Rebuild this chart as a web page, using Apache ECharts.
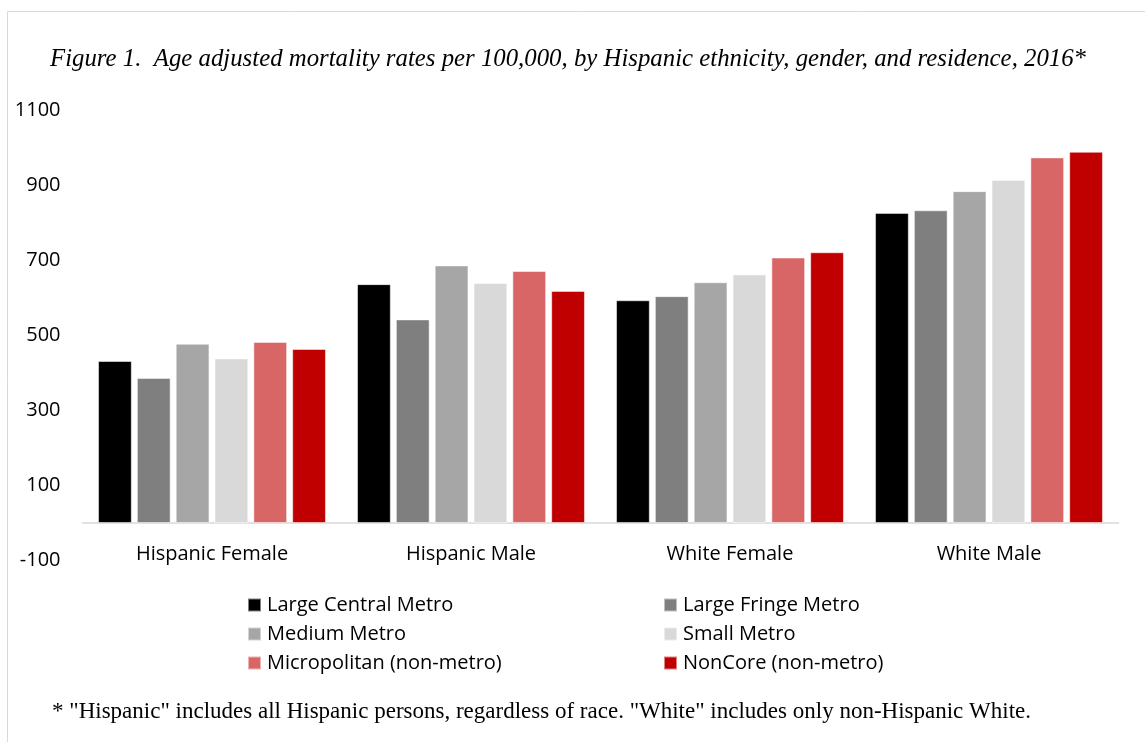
<!DOCTYPE html>
<html>
<head>
<meta charset="utf-8">
<script src="https://cdn.jsdelivr.net/npm/echarts@6/dist/echarts.min.js"></script>
<style>
html,body{margin:0;padding:0;background:#fff;}
#chart{width:1145px;height:742px;}
</style>
</head>
<body>
<div id="chart"></div>
<script>
const categories = ['Hispanic Female', 'Hispanic Male', 'White Female', 'White Male'];
const seriesNames = ['Large Central Metro', 'Large Fringe Metro', 'Medium Metro', 'Small Metro', 'Micropolitan (non-metro)', 'NonCore (non-metro)'];
const largeCentralMetro = [432, 637, 594, 827];
const largeFringeMetro = [387, 543, 605, 834];
const mediumMetro = [478, 687, 642, 885];
const smallMetro = [439, 640, 663, 915];
const micropolitan = [483, 672, 708, 975];
const nonCore = [464, 619, 722, 990];
const yMin = -100, yMax = 1100, yInterval = 200;
const titleText = 'Figure 1.  Age adjusted mortality rates per 100,000, by Hispanic ethnicity, gender, and residence, 2016*';
const footnoteText = '* "Hispanic" includes all Hispanic persons, regardless of race. "White" includes only non-Hispanic White.';

const seriesData = [largeCentralMetro, largeFringeMetro, mediumMetro, smallMetro, micropolitan, nonCore];
const colors = ['#000000', '#7f7f7f', '#a6a6a6', '#d9d9d9', '#d86666', '#c00000'];
const sansFont = 'Open Sans';
const fs = 20;

const chart = echarts.init(document.getElementById('chart'), null, {renderer: 'canvas'});
chart.setOption({
  animation: false,
  backgroundColor: '#fff',
  color: colors,
  graphic: [{
    type: 'rect', silent: true, z: -1,
    shape: {x: 7.5, y: 11.5, width: 1200, height: 800},
    style: {fill: 'none', stroke: '#d9d9d9', lineWidth: 1}
  }],
  title: [{
    text: titleText, left: 50, top: 47, padding: 0,
    textStyle: {fontFamily: 'Liberation Serif', fontStyle: 'italic', fontWeight: 'normal', fontSize: 24.8, color: '#000'}
  }, {
    text: footnoteText, left: 52, top: 700, padding: 0,
    textStyle: {fontFamily: 'Liberation Serif', fontWeight: 'normal', fontSize: 23, color: '#000'}
  }],
  legend: [{
    orient: 'vertical', left: 247, top: 594, padding: 0, itemGap: 7,
    icon: 'rect', itemWidth: 13, itemHeight: 13,
    data: [seriesNames[0], seriesNames[2], seriesNames[4]],
    textStyle: {fontFamily: sansFont, fontSize: fs, lineHeight: 22, color: '#000', padding: [0, 0, 0, 1]}
  }, {
    orient: 'vertical', left: 663, top: 594, padding: 0, itemGap: 7,
    icon: 'rect', itemWidth: 13, itemHeight: 13,
    data: [seriesNames[1], seriesNames[3], seriesNames[5]],
    textStyle: {fontFamily: sansFont, fontSize: fs, lineHeight: 22, color: '#000', padding: [0, 0, 0, 1]}
  }],
  grid: {left: 82.5, right: 26.5, top: 110.5, bottom: 181.5, containLabel: false},
  xAxis: {
    type: 'category', data: categories,
    axisLine: {show: true, onZero: true, lineStyle: {color: '#d9d9d9', width: 1.5}},
    axisTick: {show: false},
    axisLabel: {fontFamily: sansFont, fontSize: fs, color: '#000', margin: -16}
  },
  yAxis: {
    type: 'value', min: yMin, max: yMax, interval: yInterval,
    axisLine: {show: false}, axisTick: {show: false}, splitLine: {show: false},
    axisLabel: {fontFamily: sansFont, fontSize: fs, color: '#000', margin: 22, formatter: v => String(v)}
  },
  series: seriesNames.map((name, i) => ({
    name: name, type: 'bar', data: seriesData[i],
    barGap: '15%', barCategoryGap: '12%',
    itemStyle: {color: colors[i], borderColor: 'rgba(255,255,255,0.5)', borderWidth: 1}
  }))
});
</script>
</body>
</html>
